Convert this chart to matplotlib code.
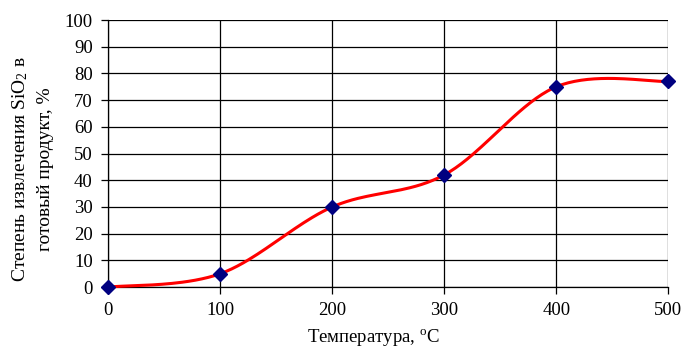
import matplotlib
matplotlib.use("Agg")
import matplotlib.pyplot as plt
import numpy as np

plt.rcParams["font.family"] = ["Liberation Serif", "DejaVu Serif"]
plt.rcParams["mathtext.fontset"] = "custom"
plt.rcParams["mathtext.rm"] = "Liberation Serif"
plt.rcParams["mathtext.it"] = "Liberation Serif:italic"

# Data
temperature = [0, 100, 200, 300, 400, 500]
extraction = [0, 5, 30, 42, 75, 77]


def smooth_curve(x, y, n=40):
    # Catmull-Rom style bezier smoothing through every point
    x = np.asarray(x, float)
    y = np.asarray(y, float)
    px = np.concatenate([[x[0]], x, [x[-1]]])
    py = np.concatenate([[y[0]], y, [y[-1]]])
    xs, ys = [], []
    t = np.linspace(0, 1, n)
    for i in range(1, len(px) - 2):
        p0 = np.array([px[i], py[i]])
        p3 = np.array([px[i + 1], py[i + 1]])
        p1 = p0 + (np.array([px[i + 1], py[i + 1]]) - np.array([px[i - 1], py[i - 1]])) / 6
        p2 = p3 - (np.array([px[i + 2], py[i + 2]]) - np.array([px[i], py[i]])) / 6
        b = ((1 - t) ** 3)[:, None] * p0 + (3 * (1 - t) ** 2 * t)[:, None] * p1 \
            + (3 * (1 - t) * t ** 2)[:, None] * p2 + (t ** 3)[:, None] * p3
        xs.extend(b[:, 0])
        ys.extend(b[:, 1])
    return xs, ys


fig = plt.figure(figsize=(6.84, 3.51), dpi=100)
ax = fig.add_axes([0.158, 0.182, 0.819, 0.761])

sx, sy = smooth_curve(temperature, extraction)
ax.plot(sx, sy, color="#ff0000", lw=2.2, zorder=3, clip_on=False)
ax.plot(temperature, extraction, linestyle="none", marker="D", ms=7.5,
        color="#000080", zorder=4, clip_on=False)

ax.set_xlim(0, 500)
ax.set_ylim(0, 100)
ax.set_xticks(range(0, 501, 100))
ax.set_yticks(range(0, 101, 10))
ax.grid(True, color="black", lw=0.9)
ax.set_axisbelow(True)

for side in ["top", "right"]:
    ax.spines[side].set_visible(False)
for side in ["left", "bottom"]:
    ax.spines[side].set_linewidth(0.9)

ax.tick_params(direction="out", length=5, width=0.9, labelsize=13.5, pad=6)

# axis titles placed in figure pixels
W, H = 684, 351
fig.text(373 / W, 1 - 338 / H, "Температура, $^{\\mathrm{o}}$C", fontsize=13.5,
         ha="center", va="center")
fig.text(32 / W, 1 - 169 / H, "Степень извлечения SiO$_2$ в\nготовый продукт, %",
         fontsize=14, rotation=90, ha="center", va="center", multialignment="center",
         linespacing=1.55)

fig.savefig("out.png", dpi=100)
